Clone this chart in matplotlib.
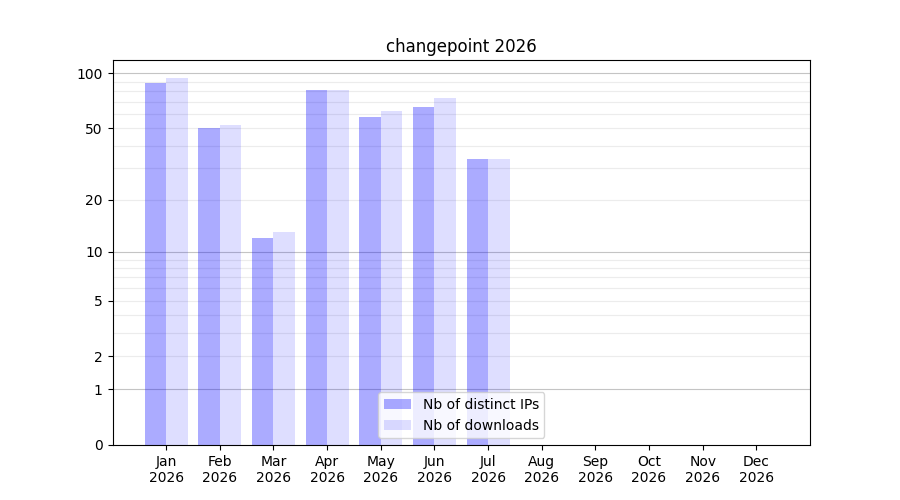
import numpy as np
import matplotlib
matplotlib.use('Agg')
from matplotlib import pyplot as plt

months = ['Jan', 'Feb', 'Mar', 'Apr', 'May', 'Jun',
          'Jul', 'Aug', 'Sep', 'Oct', 'Nov', 'Dec']
year = '2026'
distinct_ips = [88, 50, 12, 81, 58, 65, 34, 0, 0, 0, 0, 0]
downloads = [94, 52, 13, 81, 62, 73, 34, 0, 0, 0, 0, 0]
yticks = [0, 1, 2, 5, 10, 20, 50, 100]


def fwd(v):
    return np.log10(1 + np.clip(v, 0, None))


def inv(v):
    return 10 ** v - 1


fig = plt.figure(figsize=(9, 5), dpi=100)
ax = fig.add_subplot(111)
pos = np.arange(len(months))
ax.bar(pos, distinct_ips, width=-0.4, align='edge', color='blue',
       alpha=0.33, label='Nb of distinct IPs')
ax.bar(pos, downloads, width=0.4, align='edge', color='blue',
       alpha=0.13, label='Nb of downloads')

ax.set_yscale('function', functions=(fwd, inv))
ax.set_ylim(0, 118)
ax.set_xlim(-1, 12)
ax.set_yticks(yticks)
ax.set_yticklabels([str(t) for t in yticks])
minor = [m * d for d in (1, 10) for m in range(2, 10)]
ax.set_yticks(minor, minor=True)
ax.tick_params(axis='y', which='minor', length=0)
ax.set_axisbelow(True)
for v in (1, 10, 100):
    ax.axhline(v, color='#c4c4c4', lw=0.8, zorder=0)
for v in minor:
    ax.axhline(v, color='#ececec', lw=0.8, zorder=0)

ax.set_xticks(pos)
ax.set_xticklabels(['%s\n%s' % (m, year) for m in months])
ax.set_title('changepoint 2026')
ax.legend(loc='lower center')
fig.savefig('out.png')
